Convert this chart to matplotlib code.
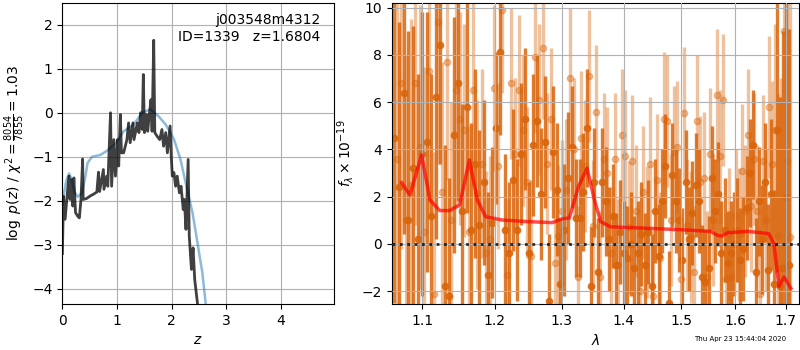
import numpy as np
import matplotlib
matplotlib.use("Agg")
import matplotlib.pyplot as plt
from matplotlib.ticker import NullLocator

plt.rcParams["font.size"] = 10

# =====================================================
# LEFT PANEL DATA - redshift PDF
# =====================================================

pz_z = [0.00, 0.02, 0.05, 0.08, 0.12, 0.14, 0.16, 0.19, 0.21, 0.24, 0.28, 0.31, 0.34, 0.37, 0.38,
        0.44, 0.51, 0.57, 0.63, 0.66, 0.68, 0.75, 0.76, 0.81, 0.83, 0.88, 0.90, 0.94, 0.97, 1.01,
        1.03, 1.06, 1.08, 1.12, 1.18, 1.21, 1.24, 1.29, 1.31, 1.37, 1.40, 1.43, 1.46, 1.48, 1.50,
        1.54, 1.56, 1.59, 1.62, 1.64, 1.67, 1.69, 1.73, 1.78, 1.82, 1.85, 1.89, 1.92, 1.97, 1.99,
        2.01, 2.04, 2.07, 2.10, 2.14, 2.17, 2.21, 2.23, 2.26, 2.30, 2.32, 2.36, 2.39, 2.42, 2.47, 2.52]
pz_logp = [-3.2, -1.9, -2.42, -1.97, -1.44, -1.97, -1.52, -2.12, -1.48, -2.27, -2.35, -2.39, -1.97, -1.05, -1.97,
           -1.95, -1.89, -1.85, -1.80, -1.35, -1.79, -1.29, -1.74, -1.44, -1.67, 0.0, -1.67, -0.61, -1.44, -0.61,
           -1.21, -0.04, -0.91, -0.91, -0.61, -0.23, -0.68, -0.23, -0.61, -0.23, -0.45, 0.0, -0.38, 0.87, -0.45,
           -0.04, -0.42, -0.04, 0.30, -0.42, 1.65, -0.45, -0.53, -0.61, -0.38, -0.76, -0.45, -0.91, -0.30, -0.98,
           -1.44, -1.36, -1.67, -1.44, -1.82, -1.67, -2.20, -1.97, -2.65, -1.06, -2.80, -3.56, -3.07, -3.79, -4.33, -5.0]

smooth_z = [0.00, 0.02, 0.07, 0.12, 0.17, 0.22, 0.28, 0.36, 0.42, 0.46, 0.54, 0.69, 0.81, 0.97, 1.12,
            1.30, 1.46, 1.61, 1.76, 1.89, 2.04, 2.16, 2.28, 2.38, 2.47, 2.56, 2.62, 2.70]
smooth_logp = [-2.1, -1.9, -1.55, -1.38, -1.50, -1.80, -1.91, -1.82, -1.45, -1.14, -1.00, -0.96, -0.87, -0.70, -0.42,
               -0.27, 0.00, 0.08, -0.08, -0.27, -0.60, -1.06, -1.74, -2.27, -2.95, -3.64, -4.33, -5.0]

chi2_num = 8054
chi2_den = 7855
field_name = "j003548m4312"
obj_id = 1339
z_best = 1.6804

# =====================================================
# RIGHT PANEL DATA - 1D spectrum (two beams) + model
# =====================================================

# wavelength grid of the two beams (microns)
lam_a = np.round(1.064 + 0.006 * np.arange(108), 4)
lam_b = np.round(1.067 + 0.006 * np.arange(108), 4)

flux_a = [4.5, 2.4, 6.4, 1.0, 3.2, 0.2, 3.8, 4.3, 1.2, 6.2,
          8.4, -1.8, -2.2, 4.6, 6.8, 1.4, 5.8, 0.6, 3.4, 0.8,
          2.6, -1.3, 0.9, 4.9, 8.1, 0.6, -0.4, 2.7, 0.6, 3.8,
          5.3, -0.4, 4.2, 5.2, 2.1, 4.3, -2.4, 3.9, 2.3, -1.7,
          0.6, 2.8, 4.1, 1.1, 1.1, 2.2, 4.9, -1.8, 2.6, -1.2,
          2.6, 1.8, 0.2, 1.2, -0.9, 0.5, -0.4, -0.6, 0.0, -1.0,
          -0.4, 0.4, -0.9, 0.5, -1.8, 1.4, -0.5, 1.8, 3.3, -2.5,
          2.9, 1.8, 1.0, -0.7, 2.6, 0.2, 1.3, 2.5, 1.8, -1.4,
          -1.6, -1.0, 2.8, 1.4, 2.1, -0.4, 0.6, -0.8, -0.4, 0.0,
          0.6, -0.7, -0.2, 1.5, 3.0, 4.2, -1.2, 1.8, 0.2, 2.6,
          -1.1, 2.1, -1.7, 4.8, -1.8, -1.0, 2.0, -0.9]
err_a = [7.0, 7.0, 6.0, 8.0, 6.0, 7.0, 6.0, 5.5, 6.0, 6.0,
         5.0, 6.0, 5.0, 5.0, 5.0, 4.5, 4.5, 4.5, 4.0, 4.0,
         3.5, 3.5, 3.2, 3.2, 3.5, 3.2, 3.0, 3.0, 3.0, 3.0,
         3.0, 3.0, 3.0, 2.8, 2.8, 2.8, 2.8, 2.8, 2.8, 2.8,
         2.8, 2.8, 2.6, 2.5, 2.5, 2.5, 2.5, 2.5, 2.3, 2.3,
         2.3, 2.3, 2.2, 2.2, 2.2, 2.2, 2.2, 2.2, 2.2, 2.2,
         2.2, 2.2, 2.2, 2.2, 2.2, 2.2, 2.2, 2.2, 2.2, 2.2,
         2.2, 2.2, 2.2, 2.2, 2.2, 2.2, 2.2, 2.2, 2.2, 2.2,
         2.2, 2.2, 2.2, 2.2, 2.2, 2.2, 2.2, 2.2, 2.2, 2.2,
         2.2, 2.2, 2.2, 2.2, 2.3, 2.3, 2.3, 2.3, 2.3, 2.5,
         2.8, 3.2, 4.0, 6.0, 8.0, 10.0, 10.0, 10.0]

flux_b = [3.6, 6.8, 1.0, 2.5, 6.8, 4.1, 0.5, 7.3, -2.1, 9.4,
          2.2, 7.7, 1.0, 6.5, 5.3, 4.8, 0.5, 6.5, 2.1, 3.4,
          -0.4, 0.2, 6.6, 3.3, 9.9, -1.3, 6.8, 3.8, 6.5, 4.8,
          2.6, -0.5, 7.9, 6.1, 8.3, 3.4, 5.3, -0.8, 0.35, 1.4,
          2.3, 7.0, 4.0, -1.4, 4.5, 3.3, 7.1, 0.75, 5.6, -1.4,
          3.6, 3.0, -0.4, 3.6, -0.9, 4.6, 3.7, 0.7, 3.5, 1.4,
          -2.0, 2.2, 0.5, 3.4, -2.2, 2.7, -0.6, 5.3, 5.2, 1.0,
          3.9, 4.1, -1.5, 5.55, 0.8, 0.3, -1.2, 5.2, 2.6, 2.8,
          -1.4, 3.8, 1.0, 6.3, 3.7, 6.1, -1.5, 0.4, -1.4, 1.2,
          0.4, 3.1, 1.4, 4.6, 1.6, 3.6, 1.4, -2.1, 3.5, 1.0,
          5.8, 3.4, 4.8, 0.35, -1.0, 9.0, 3.5, 0.3]
err_b = [8.0, 7.0, 7.0, 7.0, 6.0, 6.0, 7.0, 6.0, 6.0, 6.0,
         5.5, 5.0, 5.0, 5.0, 4.5, 4.5, 4.5, 4.0, 4.0, 4.0,
         3.5, 3.5, 3.5, 3.5, 3.5, 3.2, 3.2, 3.2, 3.2, 3.2,
         3.2, 3.2, 3.2, 3.2, 3.0, 3.0, 3.0, 3.0, 3.0, 3.0,
         3.0, 3.0, 3.0, 3.0, 2.8, 2.8, 2.8, 2.8, 2.8, 2.8,
         2.8, 2.8, 2.8, 2.8, 2.8, 2.8, 2.8, 2.8, 2.8, 2.8,
         2.8, 2.8, 2.8, 2.8, 2.8, 2.8, 2.8, 2.8, 2.8, 2.8,
         2.8, 2.8, 2.8, 2.8, 2.8, 2.8, 2.8, 2.8, 2.8, 2.8,
         2.8, 2.8, 2.8, 2.8, 2.8, 2.8, 2.8, 2.8, 2.8, 2.8,
         2.8, 2.8, 2.8, 2.8, 2.8, 2.8, 2.8, 2.8, 2.8, 3.0,
         3.0, 3.5, 4.5, 6.0, 8.0, 10.0, 10.0, 10.0]

model_lam = [1.0732, 1.0839, 1.0992, 1.1102, 1.1234, 1.1368, 1.1504, 1.1640, 1.1750, 1.1868,
             1.2103, 1.2495, 1.2852, 1.3009, 1.3120, 1.3263, 1.3400, 1.3520, 1.3622, 1.3786,
             1.4400, 1.4990, 1.5537, 1.5665, 1.5742, 1.5858, 1.6252, 1.6659, 1.6761, 1.6864,
             1.6967, 1.7105]
model_flux = [2.59, 2.07, 3.76, 1.86, 1.41, 1.41, 1.65, 3.55, 1.86, 1.15,
              1.01, 0.94, 0.90, 1.06, 1.10, 2.42, 3.20, 1.86, 0.94, 0.72,
              0.66, 0.60, 0.53, 0.36, 0.33, 0.47, 0.53, 0.43, 0.00, -1.80,
              -1.40, -1.88]

lam_ticks = [1.1, 1.2, 1.3, 1.4, 1.5, 1.6, 1.7]
timestamp = "Thu Apr 23 15:44:04 2020"

# =====================================================
# FIGURE
# =====================================================

fig = plt.figure(figsize=(8, 3.5), dpi=100)

ax1 = fig.add_axes([0.078, 0.131, 0.339, 0.861])
ax2 = fig.add_axes([0.4896, 0.131, 0.509, 0.861])

# Left: p(z)
ax1.plot(smooth_z, smooth_logp, color="C0", alpha=0.5, linewidth=1.8)
ax1.plot(pz_z, pz_logp, color="k", alpha=0.75, linewidth=2)

ax1.text(0.95, 0.965, f"{field_name}\nID={obj_id}   z={z_best:.4f}",
         ha="right", va="top", transform=ax1.transAxes, fontsize=10)

ax1.set_xlim(0, 4.96)
ax1.set_ylim(-4.35, 2.5)
ax1.set_xticks([0, 1, 2, 3, 4])
ax1.set_xlabel("$z$")
ax1.set_ylabel(r"$\log\ p(z)$ / $\chi^2=\frac{%d}{%d}=%.2f$" % (chi2_num, chi2_den, chi2_num / chi2_den))
ax1.grid(True)

# Right: spectrum
orange = "#d9650b"
ax2.errorbar(lam_b, flux_b, yerr=err_b, color=orange, alpha=0.4, marker="o", markersize=4.5,
             linestyle="none", elinewidth=2.4, zorder=2)
ax2.errorbar(lam_a, flux_a, yerr=err_a, color=orange, alpha=0.85, marker="o", markersize=4.5,
             linestyle="none", elinewidth=2.4, zorder=2)

ax2.plot(model_lam, model_flux, color="r", alpha=0.7, linewidth=2.5, zorder=5)
ax2.axhline(0, color="k", linestyle=":", linewidth=2, alpha=0.8, zorder=6)

ax2.set_xscale("log")
ax2.set_xlim(1.0605, 1.727)
ax2.set_ylim(-2.55, 10.2)
ax2.set_xticks(lam_ticks)
ax2.set_xticklabels([f"{t:.1f}" for t in lam_ticks])
ax2.xaxis.set_minor_locator(NullLocator())
ax2.set_yticks([-2, 0, 2, 4, 6, 8, 10])
ax2.set_xlabel(r"$\lambda$")
ax2.set_ylabel(r"$f_\lambda\times10^{-19}$")
ax2.set_axisbelow(False)
ax2.grid(True)

fig.text(0.983, 0.03, timestamp, ha="right", va="center", fontsize=5)

plt.savefig("out.png", dpi=100)
plt.close()
